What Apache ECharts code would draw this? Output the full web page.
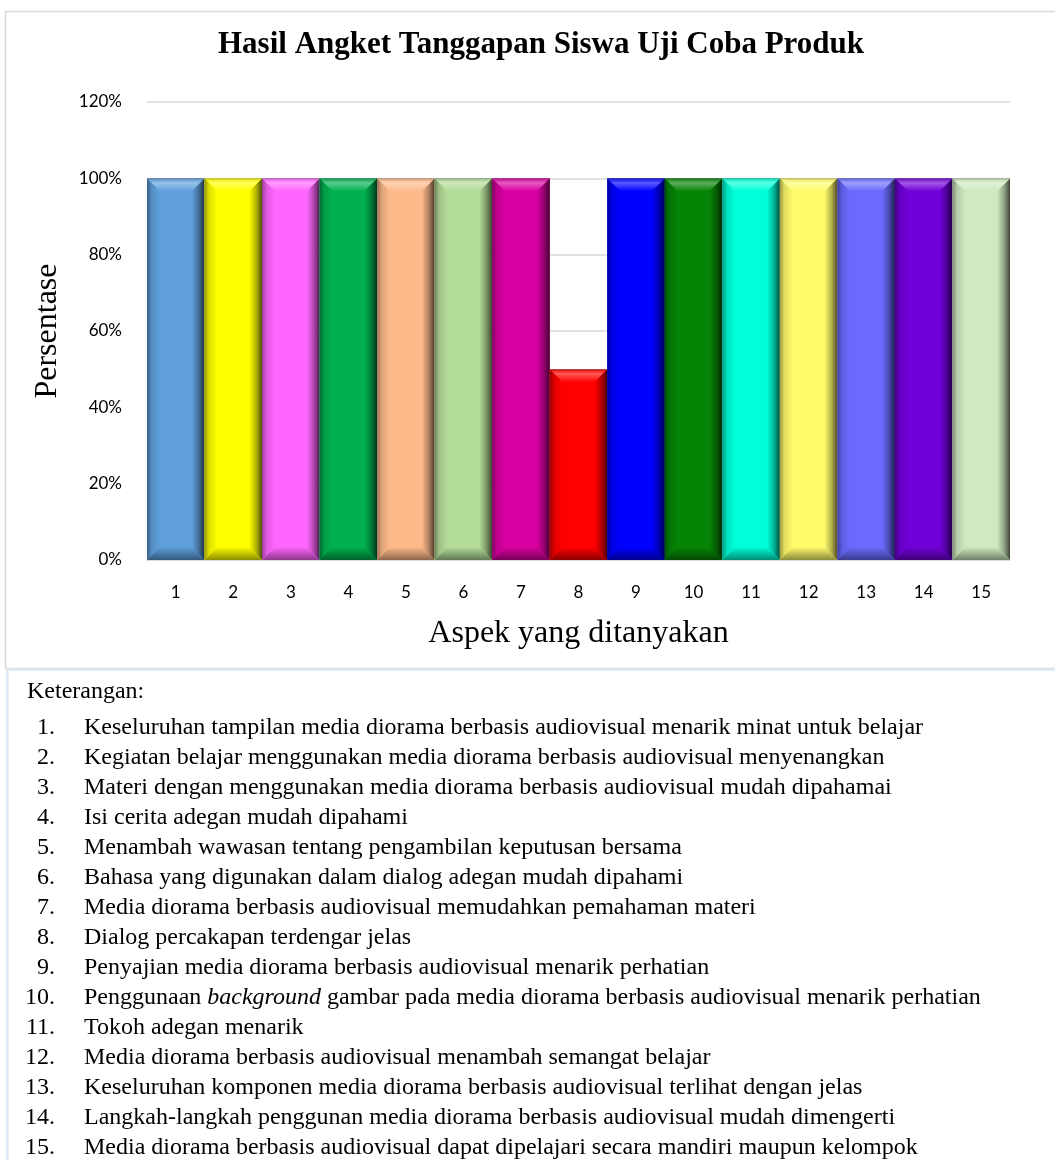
<!DOCTYPE html>
<html>
<head>
<meta charset="utf-8">
<script src="https://cdn.jsdelivr.net/npm/echarts@6/dist/echarts.min.js"></script>
<style>
html,body{margin:0;padding:0;background:#fff;}
#c{width:1055px;height:1160px;}
</style>
</head>
<body>
<div id="c"></div>
<script>
const titleText = 'Hasil Angket Tanggapan Siswa Uji Coba Produk';
const categories = ['1','2','3','4','5','6','7','8','9','10','11','12','13','14','15'];
const percentValues = [1.00,1.00,1.00,1.00,1.00,1.00,1.00,0.50,1.00,1.00,1.00,1.00,1.00,1.00,1.00];
const yTicks = [0,0.2,0.4,0.6,0.8,1.0,1.2];
const barColors = ['#5fa0dd','#ffff00','#ff66ff','#00b050','#fdb98a','#b3dc98','#d800a0','#ff0000','#0000ff','#058405','#00ffd8','#fffb6b','#6a6aff','#7000d8','#cfe9c0'];
const descriptions = [
  'Keseluruhan tampilan media diorama berbasis audiovisual menarik minat untuk belajar',
  'Kegiatan belajar menggunakan media diorama berbasis audiovisual menyenangkan',
  'Materi dengan menggunakan media diorama berbasis audiovisual mudah dipahamai',
  'Isi cerita adegan mudah dipahami',
  'Menambah wawasan tentang pengambilan keputusan bersama',
  'Bahasa yang digunakan dalam dialog adegan mudah dipahami',
  'Media diorama berbasis audiovisual memudahkan pemahaman materi',
  'Dialog percakapan terdengar jelas',
  'Penyajian media diorama berbasis audiovisual menarik perhatian',
  'Penggunaan {i|background} gambar pada media diorama berbasis audiovisual menarik perhatian',
  'Tokoh adegan menarik',
  'Media diorama berbasis audiovisual menambah semangat belajar',
  'Keseluruhan komponen media diorama berbasis audiovisual terlihat dengan jelas',
  'Langkah-langkah penggunan media diorama berbasis audiovisual mudah dimengerti',
  'Media diorama berbasis audiovisual dapat dipelajari secara mandiri maupun kelompok'
];

function hexToRgb(h){h=h.replace('#','');return [parseInt(h.substr(0,2),16),parseInt(h.substr(2,2),16),parseInt(h.substr(4,2),16)];}
function mix(c, t, a){const p=hexToRgb(c);const q=t==='w'?[255,255,255]:[0,0,0];return 'rgb('+p.map((v,k)=>Math.round(v+(q[k]-v)*a)).join(',')+')';}

function renderBar(params, api){
  const i = api.value(0), v = api.value(1);
  const top = api.coord([i, v]);
  const base = api.coord([i, 0]);
  const w = api.size([1, 0])[0];
  const x = top[0] - w/2, yt = top[1], yb = base[1];
  const h = yb - yt;
  const c = barColors[i];
  const b = Math.min(13, h/2);
  const G = echarts.graphic.LinearGradient;
  return {
    type: 'group',
    children: [
      {type:'rect', shape:{x:x,y:yt,width:w,height:h}, style:{fill:c}},
      {type:'polygon', shape:{points:[[x,yt],[x+b,yt+b],[x+b,yb-b],[x,yb]]},
        style:{fill:new G(0,0,1,0,[{offset:0,color:mix(c,'b',0.4)},{offset:0.35,color:mix(c,'b',0.12)},{offset:1,color:c}])}},
      {type:'polygon', shape:{points:[[x+w,yt],[x+w-b,yt+b],[x+w-b,yb-b],[x+w,yb]]},
        style:{fill:new G(0,0,1,0,[{offset:0,color:c},{offset:0.55,color:mix(c,'b',0.3)},{offset:1,color:mix(c,'b',0.7)}])}},
      {type:'polygon', shape:{points:[[x,yt],[x+w,yt],[x+w-b,yt+b],[x+b,yt+b]]},
        style:{fill:new G(0,0,0,1,[{offset:0,color:mix(c,'b',0.1)},{offset:0.35,color:mix(c,'w',0.35)},{offset:1,color:c}])}},
      {type:'polygon', shape:{points:[[x,yb],[x+b,yb-b],[x+w-b,yb-b],[x+w,yb]]},
        style:{fill:new G(0,0,0,1,[{offset:0,color:c},{offset:1,color:mix(c,'b',0.45)}])}},
      {type:'line', shape:{x1:x,y1:yt+0.5,x2:x+w,y2:yt+0.5}, style:{stroke:'rgba(120,120,120,0.5)',lineWidth:1}}
    ]
  };
}

const serif = '"Liberation Serif", "Times New Roman", serif';
const legendFont = 24;
const graphics = [
  {type:'rect', shape:{x:5.5,y:11.5,width:1060,height:657}, style:{fill:'none',stroke:'#d9d9d9',lineWidth:1.5}, z:-10},
  {type:'rect', shape:{x:7.5,y:669.5,width:1060,height:500}, style:{fill:'none',stroke:'#dce6f4',lineWidth:2.5}, z:-10},
  {type:'text', x:27, y:692, style:{text:'Keterangan:', font:legendFont+'px '+serif, fill:'#000', verticalAlign:'middle', align:'left'}}
];
descriptions.forEach((d, k) => {
  const y = 728 + k*30;
  graphics.push({type:'text', x:55, y:y, style:{text:categories[k]+'.', font:legendFont+'px '+serif, fill:'#000', verticalAlign:'middle', align:'right'}});
  graphics.push({type:'text', x:84, y:y, style:{text:d, font:legendFont+'px '+serif, fill:'#000', verticalAlign:'middle', align:'left',
    rich:{i:{fontStyle:'italic', fontSize:legendFont, fontFamily:serif, fill:'#000'}}}});
});

const chart = echarts.init(document.getElementById('c'));
chart.setOption({
  backgroundColor:'#fff',
  animation:false,
  title:{text:titleText, left:213, top:24, textStyle:{fontFamily:serif, fontWeight:'bold', fontSize:31, color:'#000'}},
  grid:{left:147, right:45, top:102, bottom:600, containLabel:false},
  xAxis:{type:'category', data:categories,
    axisLine:{show:true, lineStyle:{color:'#d9d9d9', width:1.5}}, axisTick:{show:false},
    axisLabel:{color:'#000', fontFamily:'Lato, "Open Sans", sans-serif', fontSize:17, margin:24},
    name:'Aspek yang ditanyakan', nameLocation:'middle', nameGap:58,
    nameTextStyle:{fontFamily:serif, fontSize:32, color:'#000'}},
  yAxis:{type:'value', min:0, max:1.2, interval:0.2,
    axisLine:{show:false}, axisTick:{show:false},
    splitLine:{lineStyle:{color:'#d9d9d9', width:1.5}},
    axisLabel:{color:'#000', fontFamily:'Lato, "Open Sans", sans-serif', fontSize:17, margin:25,
      formatter:v=>Math.round(v*100)+'%'},
    name:'Persentase', nameLocation:'middle', nameGap:83, nameRotate:90,
    nameTextStyle:{fontFamily:serif, fontSize:32, color:'#000'}},
  series:[{type:'custom', renderItem:renderBar, encode:{x:0,y:1},
    data:percentValues.map((v,i)=>[i,v])}],
  graphic:graphics
});
</script>
</body>
</html>
